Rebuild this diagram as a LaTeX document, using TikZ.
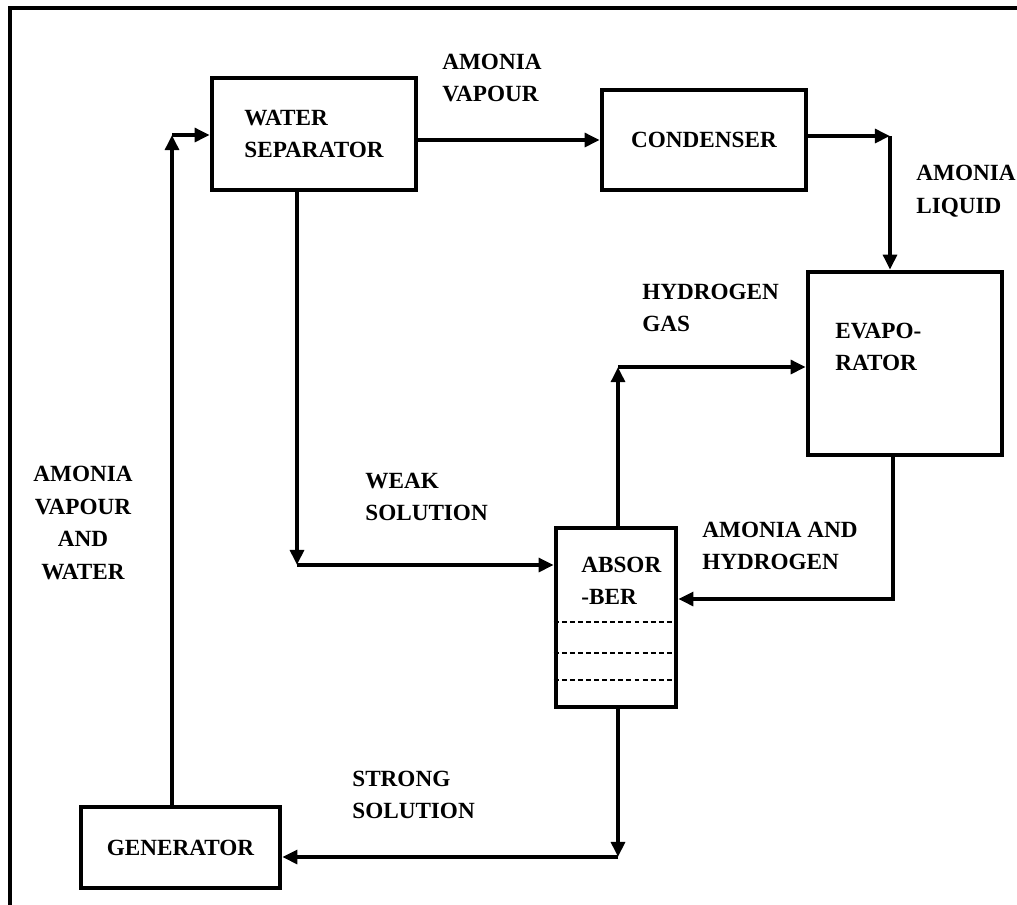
\documentclass[tikz,border=0pt]{standalone}
\usepackage{fontspec}
\setmainfont{Liberation Serif}
\usetikzlibrary{arrows.meta,calc}
\tikzset{
    every node/.append style={font=\fontsize{13.2}{18.6}\selectfont\bfseries},
    box/.style={rectangle,draw=black,line width=2.6pt,align=left,inner sep=0pt},
    arr/.style={-{Triangle[length=8.6pt,width=7.8pt]},line width=2.3pt},
    lbl/.style={align=left,inner sep=0pt,anchor=west},
    tray/.style={line width=0.8pt,dash pattern=on 2.8pt off 1.8pt},
    frame/.style={line width=2.8pt}
}

\begin{document}
\begin{tikzpicture}[x=0.02cm,y=-0.02cm]
    \useasboundingbox (0,0) rectangle (1017,904);
    \draw[frame] (10,8) rectangle (1040,930);

    \node[box,minimum width=4.08cm,minimum height=2.24cm] (watersep)   at (314,134)   {WATER\\SEPARATOR};
    \node[box,minimum width=4.08cm,minimum height=2.0cm]  (condenser)  at (704,140)   {CONDENSER};
    \node[box,minimum width=3.88cm,minimum height=3.66cm] (evaporator) at (905,363.5) {};
    \node[box,minimum width=2.4cm,minimum height=3.58cm]  (absorber)   at (616,617.5) {};
    \node[box,minimum width=3.98cm,minimum height=1.62cm] (generator)  at (180.5,847.5) {GENERATOR};

    \node[lbl] (evaptxt) at (835,347) {EVAPO-\\RATOR};
    \node[lbl] (abstxt)  at (581,581) {ABSOR\\-BER};
    \foreach \ty in {622,653,680}
        \draw[tray] (absorber.west |- 0,\ty) -- (absorber.east |- 0,\ty);

    % corners of the pipes
    \coordinate (c1) at (172,135);
    \coordinate (c2) at (890,136);
    \coordinate (c3) at (297,565);
    \coordinate (c4) at (618,367);
    \coordinate (c5) at (893,599);
    \coordinate (c6) at (618,857);

    \draw[arr] (generator.north -| c1) -- (c1);
    \draw[arr] (c1) -- (c1 -| watersep.west);
    \draw[arr] (watersep.east |- condenser.west) -- (condenser.west);
    \draw[arr] (condenser.east |- c2) -- (c2);
    \draw[arr] (c2) -- (c2 |- evaporator.north);
    \draw[arr] (watersep.south -| c3) -- (c3);
    \draw[arr] (c3) -- (c3 -| absorber.west);
    \draw[arr] (absorber.north -| c4) -- (c4);
    \draw[arr] (c4) -- (c4 -| evaporator.west);
    \draw[arr] (evaporator.south -| c5) -- (c5) -- (c5 -| absorber.east);
    \draw[arr] (absorber.south -| c6) -- (c6);
    \draw[arr] (c6) -- (c6 -| generator.east);

    \node[lbl] (vapour)   at (442,78)  {AMONIA\\VAPOUR};
    \node[lbl] (liquid)   at (916,191) {AMONIA\\LIQUID};
    \node[lbl] (hydrogen) at (642,308) {HYDROGEN\\GAS};
    \node[lbl] (weak)     at (365,497) {WEAK\\SOLUTION};
    \node[lbl] (mixture)  at (702,546) {AMONIA AND\\HYDROGEN};
    \node[lbl] (strong)   at (352,795) {STRONG\\SOLUTION};
    \node[align=center,inner sep=0pt] (genout) at (83,523) {AMONIA\\VAPOUR\\AND\\WATER};
\end{tikzpicture}
\end{document}
